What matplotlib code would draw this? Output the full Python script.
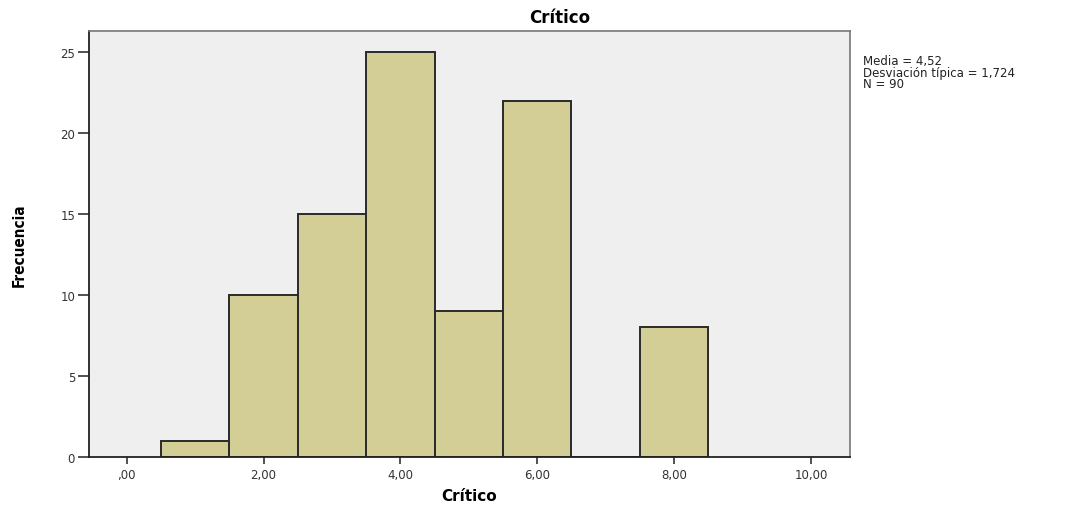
import matplotlib
matplotlib.use("Agg")
import matplotlib.pyplot as plt

# Data
bin_centers = [1, 2, 3, 4, 5, 6, 7, 8]
counts = [1, 10, 15, 25, 9, 22, 0, 8]
x_ticks = [0, 2, 4, 6, 8, 10]
x_tick_labels = [",00", "2,00", "4,00", "6,00", "8,00", "10,00"]
y_ticks = [0, 5, 10, 15, 20, 25]
stats_text = "Media = 4,52\nDesviación típica = 1,724\nN = 90"

fig = plt.figure(figsize=(10.87, 5.06), dpi=100)
ax = fig.add_axes([89/1087, 1-458/506, (850-89)/1087, (458-32)/506])
ax.set_facecolor("#efefef")

ax.bar(bin_centers, counts, width=1.0, color="#d3cd96", edgecolor="#2a2a2a", linewidth=1.4, zorder=2)

ax.set_xlim(-0.55, 10.57)
ax.set_ylim(0, 26.3)
ax.set_xticks(x_ticks)
ax.set_xticklabels(x_tick_labels)
ax.set_yticks(y_ticks)
ax.tick_params(axis="both", labelsize=8.5, colors="#333333", width=1.2)
ax.tick_params(axis="y", length=8, pad=2)
ax.tick_params(axis="x", length=5, pad=3)

for side in ["left", "bottom"]:
    ax.spines[side].set_color("#222222")
    ax.spines[side].set_linewidth(1.3)
for side in ["top", "right"]:
    ax.spines[side].set_color("#777777")
    ax.spines[side].set_linewidth(1.2)

ax.set_xlabel("Crítico", fontsize=11, fontweight="bold", labelpad=5)
ax.set_ylabel("Frecuencia", fontsize=11, fontweight="bold", labelpad=24, fontstretch="condensed")

fig.text(560/1087, 1-18/506, "Crítico", ha="center", va="center", fontsize=12, fontweight="bold")
fig.text(863/1087, 1-55/506, stats_text, ha="left", va="top", fontsize=8.5, linespacing=0.85, color="#222222")

fig.savefig("out.png", dpi=100)
